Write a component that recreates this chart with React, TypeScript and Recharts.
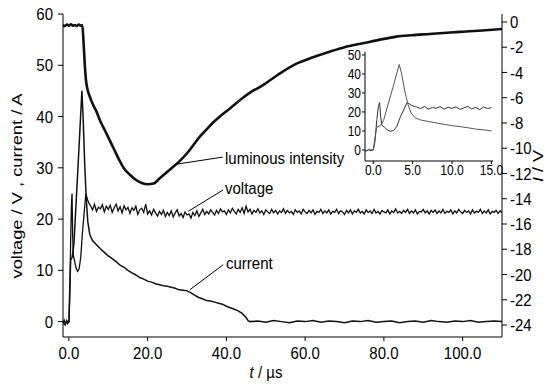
import React from "react";
import { LineChart, Line, XAxis, YAxis, ReferenceLine } from "recharts";

const FONT = '"Liberation Sans", Arial, Helvetica, sans-serif';
const STRETCH = 1.15;

// time axis (µs) and readings taken off the oscillogram
const voltageT = [
  -1.5, -1.2, -0.9, -0.6, -0.3, 0, 0.2, 0.45, 0.65, 0.8, 0.95, 1.1, 1.4, 1.8, 2.2, 2.6, 3.0, 3.4, 4.3, 4.8, 5.2,
  5.5, 6, 6.5, 7, 7.5, 8, 8.5, 9, 9.5, 10, 10.5, 11, 11.5, 12, 12.5, 13, 13.5, 14, 14.5, 15,
  15.5, 16, 16.5, 17, 17.5, 18, 18.5, 19, 19.5, 20, 20.5, 21, 21.5, 22, 22.5, 23, 23.5, 24, 24.5, 25,
  25.5, 26, 26.5, 27, 27.5, 28, 28.5, 29, 29.5, 30, 30.5, 31, 31.5, 32, 32.5, 33, 33.5, 34, 34.5, 35,
  35.5, 36, 36.5, 37, 37.5, 38, 38.5, 39, 39.5, 40, 40.5, 41, 41.5, 42, 42.5, 43, 43.5, 44, 44.5, 45,
  45.5, 46, 46.5, 47, 47.5, 48, 48.5, 49, 49.5, 50, 50.5, 51, 51.5, 52, 52.5, 53, 53.5, 54, 54.5, 55,
  55.5, 56, 56.5, 57, 57.5, 58, 58.5, 59, 59.5, 60, 60.5, 61, 61.5, 62, 62.5, 63, 63.5, 64, 64.5, 65,
  65.5, 66, 66.5, 67, 67.5, 68, 68.5, 69, 69.5, 70, 70.5, 71, 71.5, 72, 72.5, 73, 73.5, 74, 74.5, 75,
  75.5, 76, 76.5, 77, 77.5, 78, 78.5, 79, 79.5, 80, 80.5, 81, 81.5, 82, 82.5, 83, 83.5, 84, 84.5, 85,
  85.5, 86, 86.5, 87, 87.5, 88, 88.5, 89, 89.5, 90, 90.5, 91, 91.5, 92, 92.5, 93, 93.5, 94, 94.5, 95,
  95.5, 96, 96.5, 97, 97.5, 98, 98.5, 99, 99.5, 100, 100.5, 101, 101.5, 102, 102.5, 103, 103.5, 104, 104.5, 105,
  105.5, 106, 106.5, 107, 107.5, 108, 108.5, 109, 109.5, 110,
];
const voltage = [
  -0.2, 0.3, -0.5, 0.2, -0.4, 0, 4, 16, 23, 25, 17, 13, 12, 10.5, 9.8, 10.3, 12.5, 17, 25, 23.6, 22.9,
  22.6, 21.8, 22.9, 21.5, 22.3, 22.0, 22.8, 21.4, 22.5, 21.9, 22.7, 21.3, 22.2, 22.9, 21.6, 22.4, 21.2, 22.6, 21.8, 22.3,
  21.1, 22.2, 21.7, 22.5, 20.9, 21.8, 22.1, 21.3, 22.9, 21.0, 21.6, 20.8, 21.9, 21.2, 20.6, 21.5, 20.9, 21.7, 20.5, 21.3,
  20.7, 21.6, 20.4, 21.2, 21.8, 20.6, 21.1, 20.3, 21.4, 20.8, 21.0, 20.2, 21.3, 20.7, 21.6, 20.5, 21.2, 21.9, 20.9, 21.5,
  21.0, 21.8, 21.3, 20.8, 21.7, 21.1, 22.0, 21.4, 21.6, 20.9, 21.8, 21.2, 22.1, 21.5, 21.0, 21.9, 21.3, 22.2, 21.1, 22.5,
  21.4, 21.9, 21.0, 21.7, 21.3, 22.0, 21.2, 21.6, 20.9, 21.8, 21.4, 21.1, 21.9, 21.2, 21.7, 21.0, 21.6, 21.3, 22.0, 21.1,
  21.7, 21.2, 21.5, 20.9, 21.8, 21.3, 21.6, 21.0, 21.9, 21.4, 21.1, 21.7, 21.2, 21.8, 20.9, 21.5, 21.3, 21.9, 21.1, 21.6,
  21.2, 21.8, 21.0, 21.5, 21.3, 21.9, 21.1, 21.6, 21.4, 20.9, 21.7, 21.2, 21.8, 21.0, 21.6, 21.3, 21.9, 21.2, 21.5, 21.0,
  21.8, 21.3, 21.6, 21.1, 21.9, 21.2, 21.5, 21.0, 21.7, 21.4, 21.2, 21.8, 21.0, 21.6, 21.3, 22.0, 21.2, 21.5, 21.1, 21.7,
  21.3, 21.9, 21.1, 21.6, 21.2, 21.8, 21.0, 21.5, 21.4, 21.9, 21.2, 21.6, 21.0, 21.7, 21.3, 21.8, 21.1, 21.6, 21.2, 21.9,
  21.1, 21.5, 21.3, 21.8, 21.0, 21.6, 21.2, 21.9, 21.4, 21.1, 21.7, 21.3, 21.6, 21.0, 21.8, 21.2, 21.5, 21.3, 21.9, 21.1,
  21.6, 21.2, 21.8, 21.0, 21.5, 21.3, 21.7, 21.1, 21.6, 21.3,
];

const currentT = [
  -1.5, -1.0, -0.5, 0, 0.2, 0.45, 0.8, 1.1, 1.3, 2.3, 3.3, 3.6, 4.0, 4.4, 4.8, 5.3,
  6, 7, 8, 9, 10, 11, 12, 13, 14, 15, 16, 17, 18, 19, 20, 21, 22, 23, 24, 25, 26, 27, 28, 29, 30,
  31, 32, 33, 34, 35, 36, 37, 38, 39, 40, 41, 42, 43, 44, 45, 45.5, 46,
  48, 50, 52, 54, 56, 58, 60, 62, 64, 66, 68, 70, 72, 74, 76, 78, 80, 82, 84, 86, 88, 90,
  92, 94, 96, 98, 100, 102, 104, 106, 108, 110,
];
const current = [
  -0.3, -0.6, 0.1, 0, 6, 12, 12.5, 14, 15.5, 30, 45, 40, 31, 24, 19.5, 17,
  15.8, 15.0, 14.2, 13.5, 12.8, 12.3, 11.7, 11.0, 10.6, 10.0, 9.5, 9.1, 8.6, 8.3, 7.9, 7.7, 7.4, 7.2, 7.0, 6.9,
  6.7, 6.5, 6.2, 6.1, 6.0, 5.6, 5.1, 4.7, 4.4, 4.1, 4.0, 3.8, 3.6, 3.4, 3.0, 2.7, 2.4, 2.1, 1.6, 0.8, 0.2, 0,
  0.1, -0.1, 0.2, 0, -0.2, 0.1, 0, 0.2, -0.1, 0.1, 0, -0.2, 0.1, 0, 0.2, -0.1, 0, 0.1, -0.2, 0, 0.1, -0.1,
  0.2, 0, -0.1, 0.1, 0, 0.2, -0.1, 0, 0.1, 0,
];

const lumT = [
  -1.5, -1.0, -0.5, 0, 0.5, 1.0, 1.5, 2.0, 2.5, 3.0, 3.4, 3.7, 4.0, 4.3, 4.7, 5.3, 6.2, 7.0, 7.9, 9.0,
  10.4, 11.5, 12.9, 14.0, 15.5, 17.0, 18.5, 20.0, 21.5, 23.0, 24.5, 26.0, 28.2, 30.0, 31.5, 33.2, 35.0,
  36.5, 38.3, 40.9, 43.4, 46.0, 49.3, 53.0, 57.8, 62.0, 66.2, 70.0, 74.7, 79.0, 83.2, 87.0, 91.6, 96.0,
  100.1, 105.0, 110.0,
];
const luminous = [
  -0.25, -0.32, -0.2, -0.3, -0.18, -0.3, -0.24, -0.32, -0.2, -0.3, -0.25, -1.5, -3.2, -4.5, -5.3, -5.9, -6.6, -7.1, -7.8, -8.5,
  -9.4, -10.1, -11.0, -11.6, -12.1, -12.5, -12.75, -12.85, -12.8, -12.4, -12.0, -11.6, -11.0, -10.4, -9.8, -9.1, -8.5,
  -8.0, -7.5, -6.85, -6.2, -5.6, -5.0, -4.2, -3.3, -2.8, -2.36, -2.0, -1.69, -1.4, -1.16, -1.05, -0.95, -0.85,
  -0.77, -0.68, -0.56,
];

// annotation leader lines: [t0, y0, t1, y1]
const lumLeader = [27.2, -11.27, 39.1, -10.7];
const voltLeader = [30.3, 21.5, 39.2, 25.7];
const currLeader = [30.7, 6.2, 39.2, 11.1];

const xTicks = [0, 20, 40, 60, 80, 100];
const leftTicks = [0, 10, 20, 30, 40, 50, 60];
const rightTicks = [0, -2, -4, -6, -8, -10, -12, -14, -16, -18, -20, -22, -24];
const insetXTicks = [0, 5, 10, 15];
const insetYTicks = [0, 10, 20, 30, 40, 50];

const rows = (ts: number[], vs: number[]) => ts.map((t, i) => ({ t, v: vs[i] }));
const voltageData = rows(voltageT, voltage);
const currentData = rows(currentT, current);
const lumData = rows(lumT, luminous);
const insetVoltage = voltageData.filter((d) => d.t <= 15.2);
const insetCurrent = currentData.filter((d) => d.t <= 15.2);

const makeTick = (anchor: string, dy: string, size: number, digits: number) => (p: any) => (
  <g transform={`translate(${p.x},${p.y}) scale(1,${STRETCH})`}>
    <text x={0} y={0} dy={dy} textAnchor={anchor} fontSize={size} fontFamily={FONT} fill="#000">
      {digits >= 0 ? Number(p.payload.value).toFixed(digits) : p.payload.value}
    </text>
  </g>
);

const Txt = ({ x, y, anchor = "start", size = 15, rotate = 0, sy = STRETCH, children }: any) => (
  <g transform={`translate(${x},${y}) scale(1,${sy}) rotate(${rotate})`}>
    <text x={0} y={0} dy="0.35em" textAnchor={anchor} fontSize={size} fontFamily={FONT} fill="#000">
      {children}
    </text>
  </g>
);

export default function App() {
  return (
    <div style={{ position: "absolute", left: 0, top: 0, width: 554, height: 392, background: "#fff" }}>
      <div style={{ position: "absolute", left: 0, top: 0 }}>
        <LineChart width={554} height={392} margin={{ top: 14, right: 0, bottom: 0, left: 0 }}>
          <XAxis
            type="number"
            dataKey="t"
            domain={[-1.5, 110]}
            ticks={xTicks}
            interval={0}
            allowDataOverflow
            height={55}
            tickSize={4}
            tickMargin={6}
            stroke="#000"
            tick={makeTick("middle", "0.72em", 15, 1)}
          />
          <YAxis
            yAxisId="left"
            domain={[-3, 60]}
            ticks={leftTicks}
            interval={0}
            allowDataOverflow
            width={63}
            tickSize={5}
            tickMargin={5}
            stroke="#000"
            tick={makeTick("end", "0.35em", 15, -1)}
          />
          <YAxis
            yAxisId="right"
            orientation="right"
            domain={[-24.95, 0.63]}
            ticks={rightTicks}
            interval={0}
            allowDataOverflow
            width={52}
            tickSize={5}
            tickMargin={3}
            stroke="#000"
            tick={makeTick("start", "0.35em", 15, -1)}
          />
          <Line yAxisId="right" data={lumData} dataKey="v" type="monotone" stroke="#111" strokeWidth={2.6} dot={false} activeDot={false} isAnimationActive={false} />
          <Line yAxisId="left" data={voltageData} dataKey="v" type="linear" stroke="#111" strokeWidth={1.3} dot={false} activeDot={false} isAnimationActive={false} />
          <Line yAxisId="left" data={currentData} dataKey="v" type="linear" stroke="#111" strokeWidth={1.5} dot={false} activeDot={false} isAnimationActive={false} />
          <ReferenceLine yAxisId="right" segment={[{ x: lumLeader[0], y: lumLeader[1] }, { x: lumLeader[2], y: lumLeader[3] }]} stroke="#000" strokeWidth={1} />
          <ReferenceLine yAxisId="left" segment={[{ x: voltLeader[0], y: voltLeader[1] }, { x: voltLeader[2], y: voltLeader[3] }]} stroke="#000" strokeWidth={1} />
          <ReferenceLine yAxisId="left" segment={[{ x: currLeader[0], y: currLeader[1] }, { x: currLeader[2], y: currLeader[3] }]} stroke="#000" strokeWidth={1} />
        </LineChart>
      </div>

      <div style={{ position: "absolute", left: 320, top: 40 }}>
        <LineChart width={200} height={150} margin={{ top: 11.7, right: 27, bottom: 0, left: 0 }}>
          <XAxis
            type="number"
            dataKey="t"
            domain={[-1.05, 15.2]}
            ticks={insetXTicks}
            interval={0}
            allowDataOverflow
            height={29}
            tickSize={3}
            tickMargin={1}
            stroke="#000"
            tick={makeTick("middle", "0.72em", 12, 1)}
          />
          <YAxis
            domain={[-5.8, 51.7]}
            ticks={insetYTicks}
            interval={0}
            allowDataOverflow
            width={45}
            tickSize={3}
            tickMargin={1}
            stroke="#000"
            tick={makeTick("end", "0.35em", 12, -1)}
          />
          <Line data={insetVoltage} dataKey="v" type="linear" stroke="#333" strokeWidth={1} dot={false} activeDot={false} isAnimationActive={false} />
          <Line data={insetCurrent} dataKey="v" type="linear" stroke="#555" strokeWidth={1} dot={false} activeDot={false} isAnimationActive={false} />
        </LineChart>
      </div>

      <svg width={554} height={392} style={{ position: "absolute", left: 0, top: 0, pointerEvents: "none" }}>
        <Txt x={17} y={186} anchor="middle" rotate={-90} sy={1.22}>voltage / V , current / A</Txt>
        <Txt x={538} y={166} anchor="middle" rotate={-90} sy={1.2}>
          <tspan fontStyle="italic">I</tspan> / V
        </Txt>
        <Txt x={266} y={372} anchor="middle">
          <tspan fontStyle="italic">t</tspan> / µs
        </Txt>
        <Txt x={225} y={158}>luminous intensity</Txt>
        <Txt x={225} y={188}>voltage</Txt>
        <Txt x={226} y={263}>current</Txt>
      </svg>
    </div>
  );
}
